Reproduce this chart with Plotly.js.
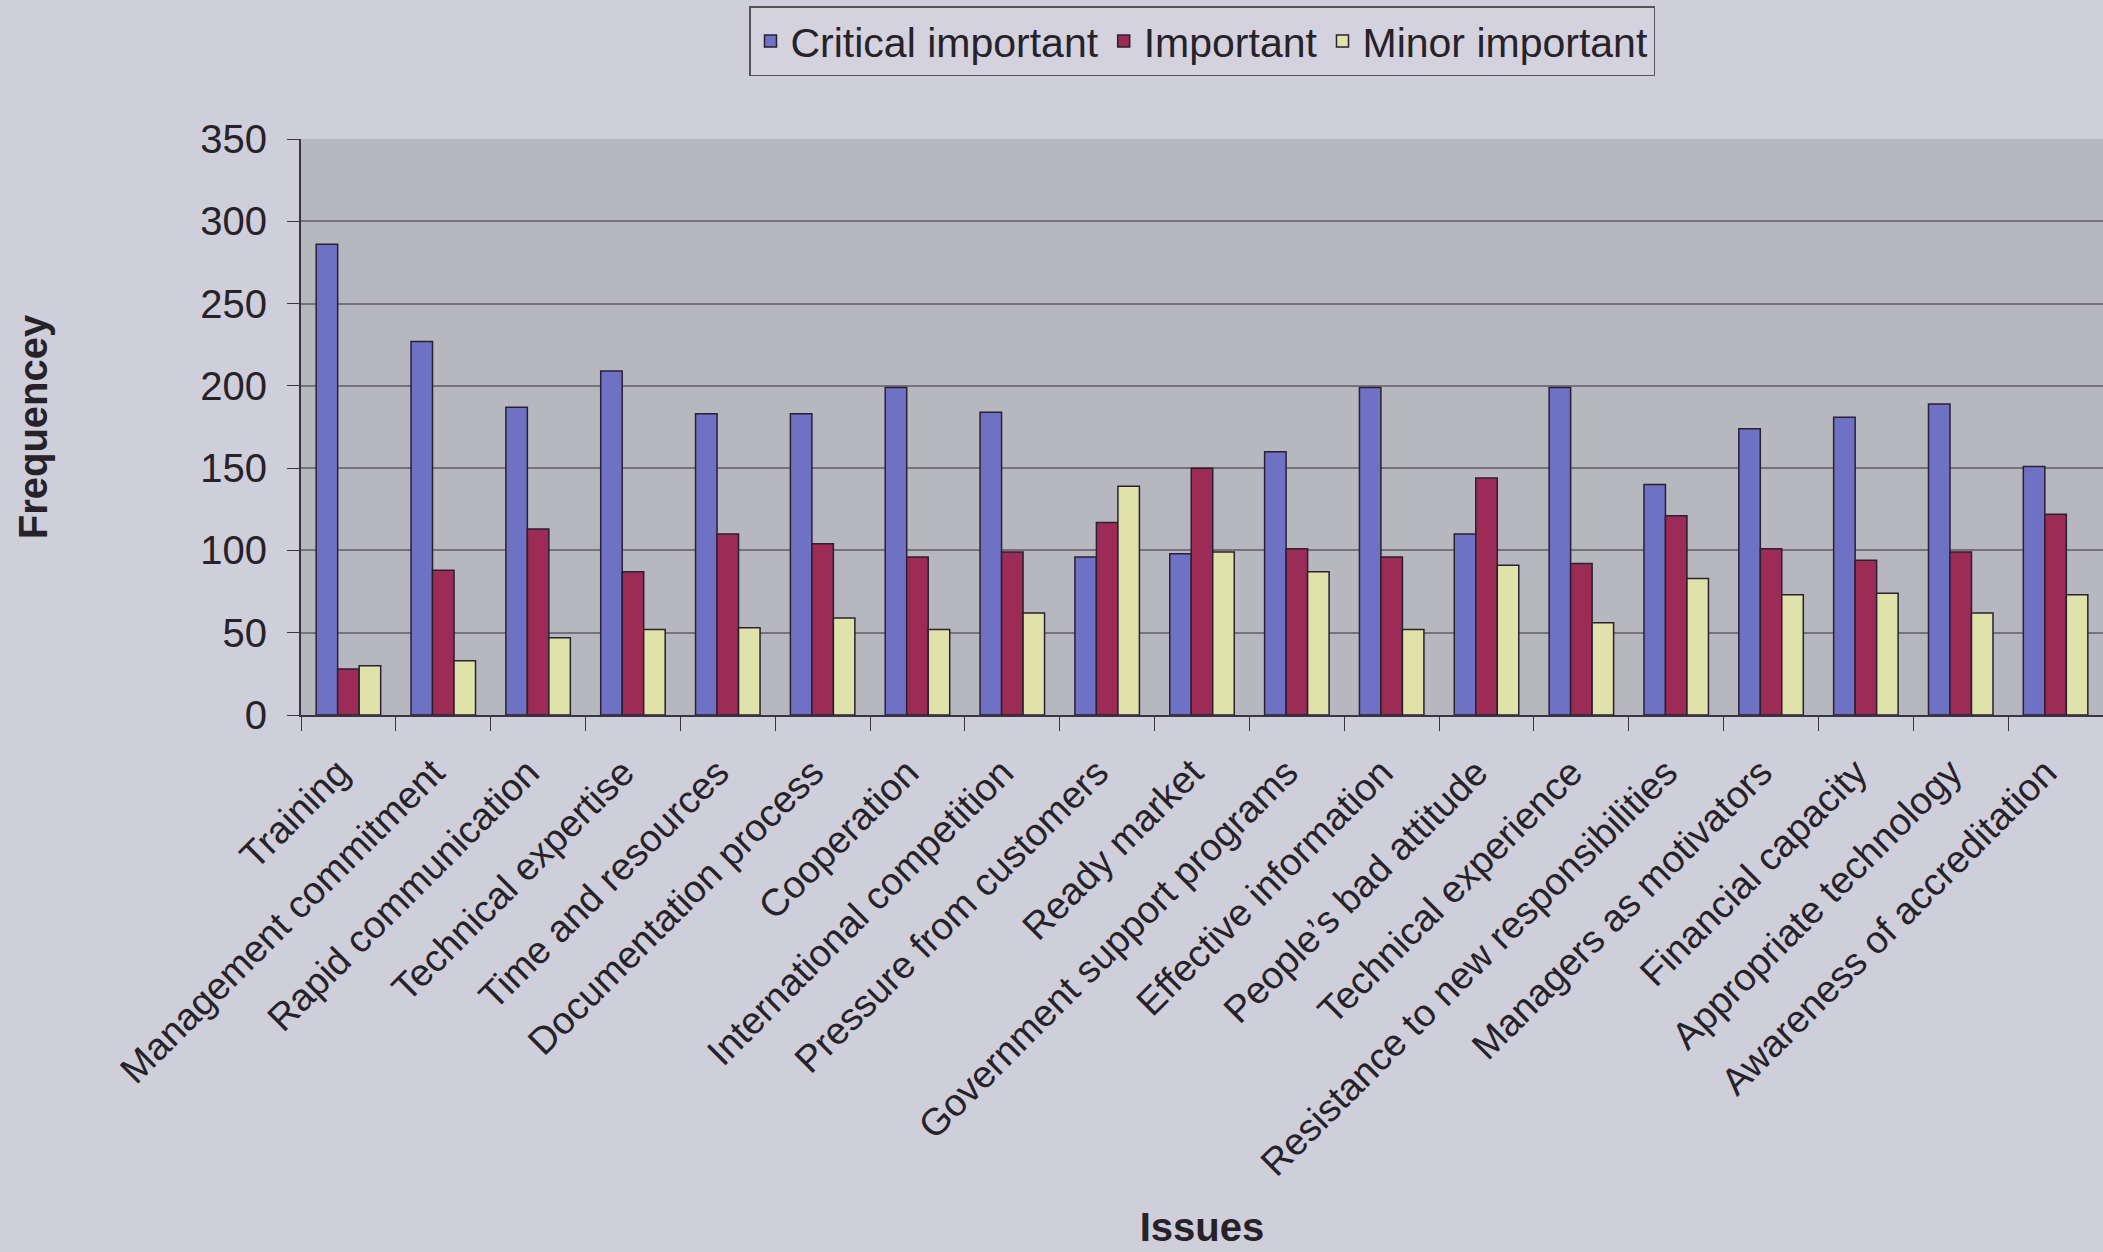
<!DOCTYPE html>
<html>
<head>
<meta charset="utf-8">
<script src="https://cdn.plot.ly/plotly-3.0.1.min.js"></script>
<style>
  html, body { margin: 0; padding: 0; background: #cfcedb; }
  #chart { width: 2103px; height: 1252px; }
</style>
</head>
<body>
<div id="chart"></div>
<script>
const categories = [
  "Training", "Management commitment", "Rapid communication", "Technical expertise",
  "Time and resources", "Documentation process", "Cooperation", "International competition",
  "Pressure from customers", "Ready market", "Government support programs", "Effective information",
  "People\u2019s bad attitude", "Technical experience", "Resistance to new responsibilities",
  "Managers as motivators", "Financial capacity", "Appropriate technology", "Awareness of accreditation"
];
const seriesNames = ["Critical important", "Important", "Minor important"];
const criticalImportant = [286, 227, 187, 209, 183, 183, 199, 184, 96, 98, 160, 199, 110, 199, 140, 174, 181, 189, 151];
const important = [28, 88, 113, 87, 110, 104, 96, 99, 117, 150, 101, 96, 144, 92, 121, 101, 94, 99, 122];
const minorImportant = [30, 33, 47, 52, 53, 59, 52, 62, 139, 99, 87, 52, 91, 56, 83, 73, 74, 62, 73];
const yTicks = [0, 50, 100, 150, 200, 250, 300, 350];

const colors = ["#6f71c4", "#9c2c55", "#dfe2a9"];
const values = [criticalImportant, important, minorImportant];
const FONT = "Liberation Sans, Arial, sans-serif";

const traces = values.map((v, i) => ({
  type: "bar",
  name: seriesNames[i],
  x: categories,
  y: v,
  marker: { color: colors[i], line: { color: "#2a2030", width: 1.5 } },
  hoverinfo: "x+y+name"
}));

const layout = {
  width: 2103,
  height: 1252,
  paper_bgcolor: "#cfcedb",
  plot_bgcolor: "#b7b7bf",
  margin: { l: 301, r: 0, t: 139, b: 537, pad: 0 },
  barmode: "group",
  bargap: 0.32,
  bargroupgap: 0,
  font: { family: FONT, color: "#262228" },
  showlegend: true,
  legend: {
    orientation: "h",
    x: 0.5, xanchor: "center", xref: "paper",
    y: 0.995, yanchor: "top", yref: "container",
    bgcolor: "#d3d2de",
    bordercolor: "#55525a",
    borderwidth: 1.5,
    font: { family: FONT, size: 41, color: "#262228" },
    traceorder: "normal",
    itemwidth: 30
  },
  xaxis: {
    type: "category",
    range: [-0.5, 18.5],
    tickangle: -45,
    tickfont: { family: FONT, size: 38, color: "#262228" },
    ticks: "outside",
    tickson: "boundaries",
    ticklen: 14,
    tickcolor: "#3a3640",
    ticklabelstandoff: 18,
    ticklabelshift: -10,
    showline: true,
    linecolor: "#3a3640",
    linewidth: 2,
    showgrid: false,
    automargin: "left+right",
    title: {
      text: "<b>Issues</b>",
      font: { family: FONT, size: 40, color: "#262228" },
      standoff: 30
    }
  },
  yaxis: {
    range: [0, 350],
    tickvals: yTicks,
    ticktext: yTicks.map(String),
    tickfont: { family: FONT, size: 40, color: "#262228" },
    ticks: "outside",
    ticklen: 12,
    tickcolor: "#3a3640",
    ticklabelstandoff: 12,
    showline: true,
    linecolor: "#3a3640",
    linewidth: 2,
    showgrid: true,
    gridcolor: "#76727b",
    gridwidth: 1.5,
    zeroline: false,
    automargin: true,
    title: {
      text: "<b>Frequencey</b>",
      font: { family: FONT, size: 40, color: "#262228" },
      standoff: 140
    }
  }
};

Plotly.newPlot("chart", traces, layout, { displayModeBar: false, responsive: false });
</script>
</body>
</html>
